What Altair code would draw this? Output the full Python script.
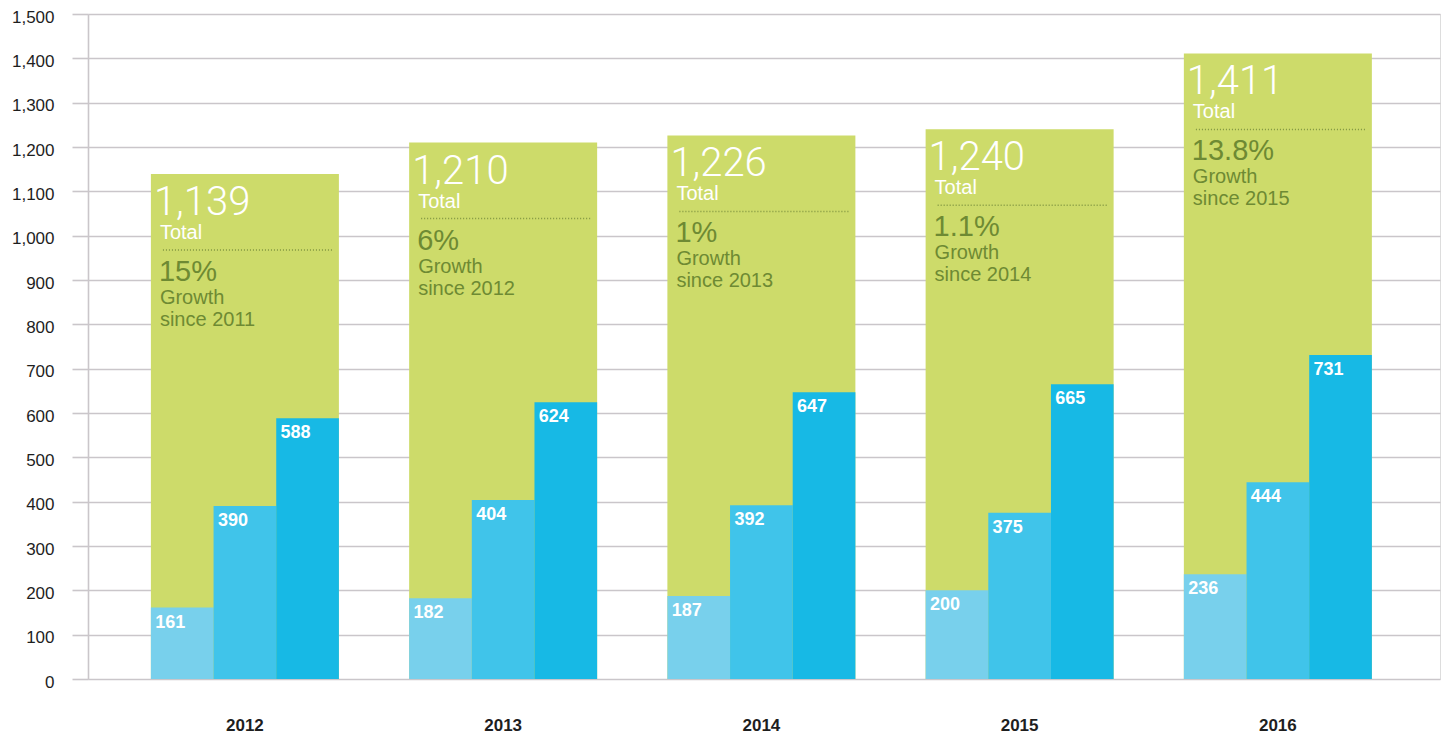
import altair as alt
import pandas as pd

years = ["2012", "2013", "2014", "2015", "2016"]
totals = [1139, 1210, 1226, 1240, 1411]
seg_low = [161, 182, 187, 200, 236]
seg_mid = [390, 404, 392, 375, 444]
seg_high = [588, 624, 647, 665, 731]
growth = ["15%", "6%", "1%", "1.1%", "13.8%"]
since = ["since 2011", "since 2012", "since 2013", "since 2014", "since 2015"]
seg_keys = ["low", "mid", "high"]
seg_colors = ["#78d0ec", "#40c4ea", "#17b9e5"]

GREEN = "#cddb6a"
OLIVE = "#6e8a33"
GRID = "#cac6ca"
FONT = "Liberation Sans"

tot_df = pd.DataFrame({"year": years, "total": totals, "growth": growth,
                       "since": since, "word": ["Total"] * 5, "gw": ["Growth"] * 5})
rows = []
for i, y in enumerate(years):
    for k, vals in zip(seg_keys, [seg_low, seg_mid, seg_high]):
        rows.append({"year": y, "seg": k, "value": vals[i]})
seg_df = pd.DataFrame(rows)

xscale = alt.Scale(paddingInner=0.272, paddingOuter=0.2537, align=0.48)
yscale = alt.Scale(domain=[0, 1500], nice=False)

X = alt.X("year:N", scale=xscale, sort=years,
          axis=alt.Axis(title=None, domain=False, ticks=False, labelAngle=0,
                        labelPadding=38, labelFont=FONT, labelFontSize=17,
                        labelFontWeight="bold", labelColor="#1e1e1e"))
Y = alt.Y("total:Q", scale=yscale,
          axis=alt.Axis(title=None, values=list(range(0, 1501, 100)), format=",d",
                        grid=True, gridColor=GRID, gridWidth=1.6,
                        domainColor=GRID, domainWidth=1.6,
                        tickColor=GRID, tickSize=16, tickWidth=1.6,
                        labelPadding=18, labelOffset=3, labelFont=FONT, labelFontSize=17,
                        labelColor="#1e1e1e"))

green = alt.Chart(tot_df).mark_bar(color=GREEN).encode(x=X, y=Y)

base_t = alt.Chart(tot_df).encode(x=alt.X("year:N", bandPosition=0, sort=years), y=alt.Y("total:Q"))

big = base_t.mark_text(align="left", baseline="alphabetic", dx=3, dy=41,
                       font="Roboto", fontWeight=300, fontSize=40, color="white"
                       ).encode(text=alt.Text("total:Q", format=",d"))
word = base_t.mark_text(align="left", baseline="alphabetic", dx=9, dy=65,
                        font=FONT, fontSize=20, color="white").encode(text="word:N")
pct = base_t.mark_text(align="left", baseline="alphabetic", dx=8, dy=107,
                       font=FONT, fontSize=29, color=OLIVE).encode(text="growth:N")
gw = base_t.mark_text(align="left", baseline="alphabetic", dx=9, dy=130,
                      font=FONT, fontSize=20, color=OLIVE).encode(text="gw:N")
sn = base_t.mark_text(align="left", baseline="alphabetic", dx=9, dy=152,
                      font=FONT, fontSize=20, color=OLIVE).encode(text="since:N")

dots = alt.Chart(tot_df).mark_rule(yOffset=76, strokeDash=[1, 2], strokeWidth=1.6,
                                   color="#7f9440").encode(
    x=alt.X("year:N", bandPosition=0.064, sort=years),
    x2=alt.X2("year", bandPosition=0.963),
    y=alt.Y("total:Q"))

segs = alt.Chart(seg_df).mark_bar().encode(
    x=alt.X("year:N", sort=years),
    xOffset=alt.XOffset("seg:N", sort=seg_keys, scale=alt.Scale(paddingInner=0, paddingOuter=0)),
    y=alt.Y("value:Q"),
    color=alt.Color("seg:N", scale=alt.Scale(domain=seg_keys, range=seg_colors), legend=None))

seg_txt = alt.Chart(seg_df).mark_text(align="left", baseline="top", dx=-27, dy=6,
                                      font=FONT, fontSize=18, fontWeight="bold",
                                      color="white").encode(
    x=alt.X("year:N", sort=years),
    xOffset=alt.XOffset("seg:N", sort=seg_keys),
    y=alt.Y("value:Q"),
    text=alt.Text("value:Q"))

chart = alt.layer(green, segs, seg_txt, dots, big, word, pct, gw, sn).properties(
    width=1352, height=665,
    autosize=alt.AutoSizeParams(type="none"),
    padding={"left": 80, "top": 6, "right": 1, "bottom": 61},
).configure_view(stroke=None).configure(background="white")

chart.save("out.html", embed_options={"renderer": "svg", "actions": False})
